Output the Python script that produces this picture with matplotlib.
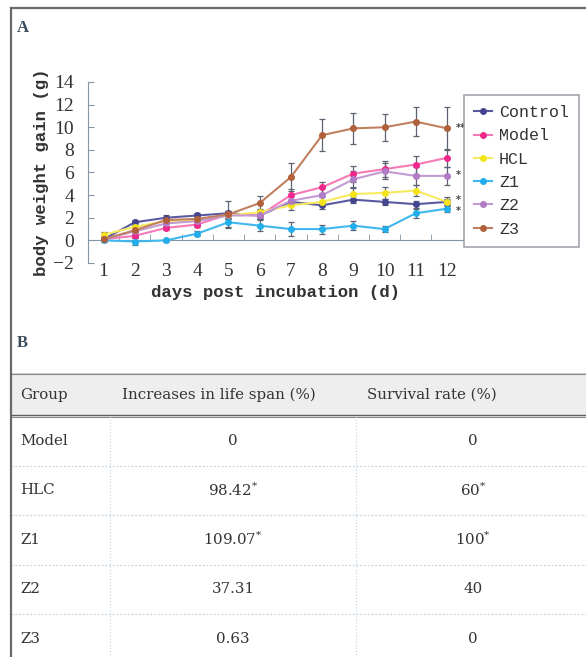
import matplotlib
matplotlib.use("Agg")
import matplotlib.pyplot as plt
from matplotlib.lines import Line2D
from matplotlib.patches import Rectangle

plt.rcParams['mathtext.fontset'] = 'dejavuserif'

# ---------------- data ----------------
days = [1, 2, 3, 4, 5, 6, 7, 8, 9, 10, 11, 12]
series_names = ["Control", "Model", "HCL", "Z1", "Z2", "Z3"]
control = [0.1, 1.6, 2.0, 2.2, 2.4, 2.2, 3.4, 3.1, 3.6, 3.4, 3.2, 3.4]
model = [0.1, 0.4, 1.1, 1.4, 2.3, 2.2, 4.0, 4.7, 5.9, 6.3, 6.7, 7.3]
hcl = [0.5, 1.2, 1.7, 1.8, 2.2, 2.5, 3.1, 3.4, 4.1, 4.2, 4.4, 3.4]
z1 = [0.0, -0.1, 0.0, 0.6, 1.6, 1.3, 1.0, 1.0, 1.3, 1.0, 2.4, 2.8]
z2 = [0.1, 0.8, 1.5, 1.7, 2.2, 2.2, 3.5, 4.0, 5.4, 6.1, 5.7, 5.7]
z3 = [0.1, 0.9, 1.8, 1.9, 2.3, 3.3, 5.6, 9.3, 9.9, 10.0, 10.5, 9.9]

control_err = [0.1, 0.2, 0.2, 0.2, 0.2, 0.2, 0.3, 0.3, 0.3, 0.3, 0.3, 0.3]
model_err = [0.1, 0.2, 0.2, 0.2, 0.3, 0.3, 0.5, 0.5, 0.7, 0.7, 0.8, 0.8]
hcl_err = [0.2, 0.2, 0.2, 0.2, 0.3, 0.3, 0.4, 0.4, 0.5, 0.5, 0.5, 0.4]
z1_err = [0.1, 0.3, 0.1, 0.2, 0.4, 0.5, 0.6, 0.4, 0.4, 0.3, 0.4, 0.3]
z2_err = [0.1, 0.2, 0.2, 0.3, 0.3, 0.3, 0.5, 0.6, 0.7, 0.7, 0.8, 0.8]
z3_err = [0.1, 0.2, 0.2, 0.3, 1.2, 0.6, 1.2, 1.4, 1.4, 1.2, 1.3, 1.9]

# significance marks at day 12: (value, label)
sig_values = [9.9, 5.8, 3.6, 2.6]
sig_labels = ["**", "*", "*", "*"]

yticks = [-2, 0, 2, 4, 6, 8, 10, 12, 14]

# table data
table_header = ["Group", "Increases in life span (%)", "Survival rate (%)"]
table_groups = ["Model", "HLC", "Z1", "Z2", "Z3"]
life_span = ["0", "98.42$^{*}$", "109.07$^{*}$", "37.31", "0.63"]
survival = ["0", "60$^{*}$", "100$^{*}$", "40", "0"]

# ---------------- styles ----------------
colors = ["#45458f", "#f0288c", "#f5e31a", "#22aeea", "#b07cc6", "#b0603a"]
line_colors = ["#5a5aa0", "#f77ab8", "#f7ea60", "#40b8ee", "#c49ad4", "#c08060"]
chart_font = "Liberation Mono"
table_font = "DejaVu Serif"
txt = "#333333"
axis_col = "#8595a5"

W, H = 586, 657
fig = plt.figure(figsize=(W / 100, H / 100), dpi=100)

def fx(px):
    return px / W

def fy(py):
    return 1 - py / H

# ---------- panel A ----------
ax = fig.add_axes([fx(88), fy(263), fx(462.6) - fx(88), fy(82) - fy(263)])
all_vals = [control, model, hcl, z1, z2, z3]
all_errs = [control_err, model_err, hcl_err, z1_err, z2_err, z3_err]
handles = []
for name, v, e, c, lc in zip(series_names, all_vals, all_errs, colors, line_colors):
    ax.errorbar(days, v, yerr=e, fmt='none', ecolor="#5c6270", elinewidth=0.9,
                capsize=2.2, capthick=0.9, zorder=2)
    ax.plot(days, v, color=lc, lw=1.5, zorder=3)
    ax.plot(days, v, ls='none', marker='o', ms=4, color=c, zorder=4)
    handles.append(Line2D([0], [0], color=lc, lw=1.5, marker='o', ms=4,
                          markerfacecolor=c, markeredgecolor=c, label=name))

for val, lab in zip(sig_values, sig_labels):
    ax.text(days[-1] + 0.28, val, lab, fontsize=7, color="#444444",
            ha='left', va='center', family="DejaVu Sans", fontweight='bold')

ax.set_xlim(0.5, 12.5)
ax.set_ylim(-2, 14)
ax.set_yticks(yticks)
ax.set_yticklabels([str(t).replace('-', '\u2212') for t in yticks])
ax.set_xticks(days)
ax.set_xticks([d + 0.5 for d in days[:-1]], minor=True)
for s in ["top", "right"]:
    ax.spines[s].set_visible(False)
ax.spines["left"].set_color(axis_col)
ax.spines["bottom"].set_color(axis_col)
ax.spines["bottom"].set_position(("data", 0))
ax.tick_params(axis='y', direction='in', length=4, color=axis_col,
               labelcolor=txt, pad=10)
ax.tick_params(axis='x', which='major', length=0, labelcolor=txt, pad=16)
ax.tick_params(axis='x', which='minor', direction='in', length=4, color=axis_col)
for lbl in ax.get_xticklabels() + ax.get_yticklabels():
    lbl.set_family("Liberation Serif")
    lbl.set_fontsize(14)
ax.set_xlabel("days post incubation (d)", family=chart_font, fontsize=12.5,
              color=txt, fontweight='bold')
ax.xaxis.set_label_coords(0.5, -0.12)
ax.set_ylabel("body weight gain (g)", family=chart_font, fontsize=12.5,
              color=txt, fontweight='bold')
ax.yaxis.set_label_coords(-0.105, 0.5)

leg = fig.legend(handles=handles, loc='upper left',
                 bbox_to_anchor=(fx(464), fy(95)), borderaxespad=0,
                 prop={'family': chart_font, 'size': 12}, frameon=True,
                 fancybox=False, edgecolor="#8a8f98", handlelength=1.1,
                 handletextpad=0.4, labelspacing=0.5, borderpad=0.6)
leg.get_frame().set_linewidth(1.2)
for t in leg.get_texts():
    t.set_color(txt)

# panel letters and border
fig.text(fx(17), fy(28), "A", fontsize=12, family="Liberation Serif",
         fontweight='bold', color="#3a4a5a", va='center')
fig.text(fx(17), fy(343), "B", fontsize=12, family="Liberation Serif",
         fontweight='bold', color="#3a4a5a", va='center')
fig.add_artist(Line2D([fx(11), 1], [fy(8), fy(8)], color="#6a6a6a", lw=1.6))
fig.add_artist(Line2D([fx(11), fx(11)], [fy(8), 0], color="#6a6a6a", lw=1.6))

# ---------- panel B: table ----------
tab_top, tab_left = 373, 11
tab = fig.add_axes([fx(tab_left), 0, 1 - fx(tab_left), fy(tab_top)])
tab.set_xlim(0, W - tab_left)
tab.set_ylim(H - tab_top, 0)
tab.axis('off')
header_h = 43
row_h = 49.5
col_div = [110 - tab_left, 356 - tab_left]
col_text_left = [20 - tab_left, 122 - tab_left, 367 - tab_left]
col_center = [None, 233 - tab_left, 473 - tab_left]

tab.add_patch(Rectangle((0, 0), W - tab_left, header_h, color="#eeeeee", zorder=0))
for yy in (0, header_h):
    tab.axhline(yy - 1, color="#5e5e5e", lw=1.0)
    tab.axhline(yy + 1, color="#8a8a8a", lw=0.8)
for xx in col_div:
    tab.plot([xx, xx], [header_h, H - tab_top], color="#c9d9e6", lw=0.9, ls=(0, (1, 1.5)))
for i in range(1, len(table_groups)):
    yy = header_h + i * row_h
    tab.plot([0, W - tab_left], [yy, yy], color="#c9d4de", lw=0.9, ls=(0, (1.5, 1.5)))

fs_tab = 10.8
for j, h in enumerate(table_header):
    tab.text(col_text_left[j], header_h / 2, h, family=table_font, fontsize=fs_tab,
             color=txt, ha='left', va='center')
for i, (g, ls_, sv) in enumerate(zip(table_groups, life_span, survival)):
    yc = header_h + (i + 0.5) * row_h
    tab.text(col_text_left[0], yc, g, family=table_font, fontsize=fs_tab,
             color=txt, ha='left', va='center')
    tab.text(col_center[1], yc, ls_, family=table_font, fontsize=fs_tab,
             color=txt, ha='center', va='center')
    tab.text(col_center[2], yc, sv, family=table_font, fontsize=fs_tab,
             color=txt, ha='center', va='center')

fig.savefig("out.png", dpi=100)
